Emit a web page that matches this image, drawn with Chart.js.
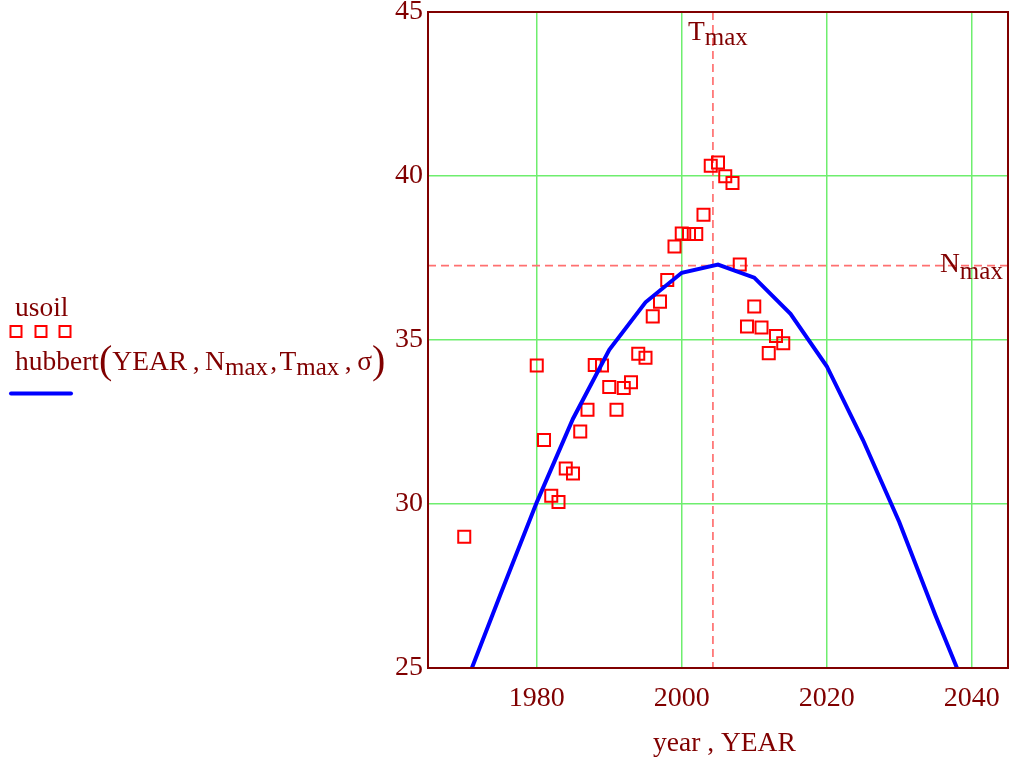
<!DOCTYPE html>
<html>
<head>
<meta charset="utf-8">
<script src="https://cdn.jsdelivr.net/npm/chart.js@4.4.0/dist/chart.umd.min.js"></script>
<style>
html,body{margin:0;padding:0;background:#fff;}
#wrap{width:1010px;height:759px;position:relative;}
</style>
</head>
<body>
<div id="wrap"><canvas id="c" width="1010" height="759"></canvas></div>
<script>
// ---- data ----
const usoilYears = [1970, 1980, 1981, 1982, 1983, 1984, 1985, 1986, 1987, 1988, 1989,
  1990, 1991, 1992, 1993, 1994, 1995, 1996, 1997, 1998, 1999,
  2000, 2001, 2002, 2003, 2004, 2005, 2006, 2007, 2008, 2009,
  2010, 2011, 2012, 2013, 2014];
const usoil = [29.0, 34.22, 31.95, 30.25, 30.06, 31.08, 30.93, 32.21, 32.87, 34.24, 34.22,
  33.57, 32.87, 33.54, 33.71, 34.58, 34.46, 35.72, 36.17, 36.83, 37.85,
  38.25, 38.23, 38.23, 38.82, 40.31, 40.41, 39.99, 39.79, 37.30, 35.41,
  36.02, 35.38, 34.60, 35.12, 34.90];
const YEAR = [1970, 1975, 1980, 1985, 1990, 1995, 2000, 2005, 2010, 2015, 2020, 2025, 2030, 2035, 2040];
const hubbert = [24.4, 27.25, 30.05, 32.6, 34.7, 36.15, 37.05, 37.3, 36.9, 35.8, 34.2, 31.95, 29.45, 26.6, 23.9];
const TMAX = 2004.3;
const NMAX = 37.27;
const xTicks = [1980, 2000, 2020, 2040];
const yTicks = [25, 30, 35, 40, 45];

const DARK = '#800000';
const GRID = 'rgb(110,238,110)';
const FONT = 'Liberation Serif';
Chart.defaults.font.family = FONT;

const deco = {
  id: 'deco',
  beforeDatasetsDraw(chart) {
    const {ctx, chartArea: a, scales: {x, y}} = chart;
    ctx.save();
    ctx.beginPath(); ctx.rect(a.left, a.top, a.right - a.left, a.bottom - a.top); ctx.clip();
    ctx.strokeStyle = '#ff7070'; ctx.lineWidth = 1.7; ctx.setLineDash([8, 5]);
    const tx = x.getPixelForValue(TMAX), ny = y.getPixelForValue(NMAX);
    ctx.beginPath(); ctx.moveTo(tx, a.top); ctx.lineTo(tx, a.bottom); ctx.stroke();
    ctx.beginPath(); ctx.moveTo(a.left, ny); ctx.lineTo(a.right, ny); ctx.stroke();
    ctx.restore();
  },
  afterDraw(chart) {
    const {ctx, chartArea: a, scales: {x, y}} = chart;
    ctx.save();
    // frame
    ctx.strokeStyle = DARK; ctx.lineWidth = 2; ctx.setLineDash([]);
    ctx.strokeRect(a.left, a.top, a.right - a.left, a.bottom - a.top);

    ctx.fillStyle = DARK;
    ctx.textBaseline = 'alphabetic';
    ctx.textAlign = 'left';
    const main = '27.5px "' + FONT + '"';
    const sub = '25px "' + FONT + '"';
    const big = '40px "' + FONT + '"';
    function seq(x0, base, parts) {
      let cx = x0;
      for (const p of parts) {
        ctx.font = p.f;
        ctx.fillText(p.t, cx, base + (p.dy || 0));
        cx += ctx.measureText(p.t).width;
      }
    }
    // T_max annotation
    const tx = x.getPixelForValue(TMAX), ny = y.getPixelForValue(NMAX);
    seq(tx - 25, 40, [{t: 'T', f: main}, {t: 'max', f: sub, dy: 5}]);
    // N_max annotation
    seq(940, ny + 6, [{t: 'N', f: main}, {t: 'max', f: sub, dy: 7}]);

    // legend
    ctx.font = main;
    ctx.fillText('usoil', 15, 316);
    ctx.strokeStyle = 'red'; ctx.lineWidth = 2;
    [16, 41, 65].forEach(cx => ctx.strokeRect(cx - 5.5, 326, 11, 11));
    seq(15, 370, [
      {t: 'hubbert', f: main},
      {t: '(', f: big, dy: 3},
      {t: 'YEAR\u2009,\u2009N', f: main},
      {t: 'max', f: sub, dy: 5},
      {t: '\u200a,\u200aT', f: main},
      {t: 'max', f: sub, dy: 5},
      {t: '\u2009,\u2009\u03c3', f: main},
      {t: ')', f: big, dy: 3}
    ]);
    ctx.strokeStyle = 'blue'; ctx.lineWidth = 4; ctx.lineCap = 'round';
    ctx.beginPath(); ctx.moveTo(11, 393.5); ctx.lineTo(71, 393.5); ctx.stroke();

    // x axis title
    ctx.font = main; ctx.fillStyle = DARK;
    ctx.fillText('year , YEAR', 653, 751);
    ctx.restore();
  }
};

new Chart(document.getElementById('c'), {
  type: 'scatter',
  data: {
    datasets: [
      {
        type: 'line',
        label: 'hubbert',
        data: YEAR.map((t, i) => ({x: t, y: hubbert[i]})),
        borderColor: '#0000ff',
        borderWidth: 4,
        pointRadius: 0,
        tension: 0,
        fill: false,
        clip: 0,
        order: 0
      },
      {
        label: 'usoil',
        data: usoilYears.map((t, i) => ({x: t, y: usoil[i]})),
        pointStyle: 'rect',
        pointRadius: 8.5,
        pointHoverRadius: 8.5,
        borderColor: '#ff0000',
        backgroundColor: 'rgba(0,0,0,0)',
        borderWidth: 2,
        order: 1
      }
    ]
  },
  options: {
    responsive: false,
    animation: false,
    events: [],
    layout: {autoPadding: false, padding: {top: 12, right: 2, left: 0, bottom: 0}},
    plugins: {legend: {display: false}, tooltip: {enabled: false}, title: {display: false}},
    scales: {
      x: {
        type: 'linear', position: 'bottom', min: 1965, max: 2045,
        afterBuildTicks: s => { s.ticks = xTicks.map(v => ({value: v})); },
        afterFit: s => { s.height = 91; s.paddingLeft = 0; s.paddingRight = 0; },
        grid: {color: GRID, lineWidth: 1.5, drawTicks: false},
        border: {display: true, color: DARK, width: 2},
        ticks: {color: DARK, font: {size: 28}, padding: 14, maxRotation: 0, autoSkip: false,
                callback: v => String(v)}
      },
      y: {
        type: 'linear', min: 25, max: 45,
        afterBuildTicks: s => { s.ticks = yTicks.map(v => ({value: v})); },
        afterFit: s => { s.width = 428; s.paddingTop = 0; s.paddingBottom = 0; },
        grid: {color: GRID, lineWidth: 1.5, drawTicks: false},
        border: {display: true, color: DARK, width: 2},
        ticks: {color: DARK, font: {size: 28}, padding: 5, callback: v => String(v)}
      }
    }
  },
  plugins: [deco]
});
</script>
</body>
</html>
